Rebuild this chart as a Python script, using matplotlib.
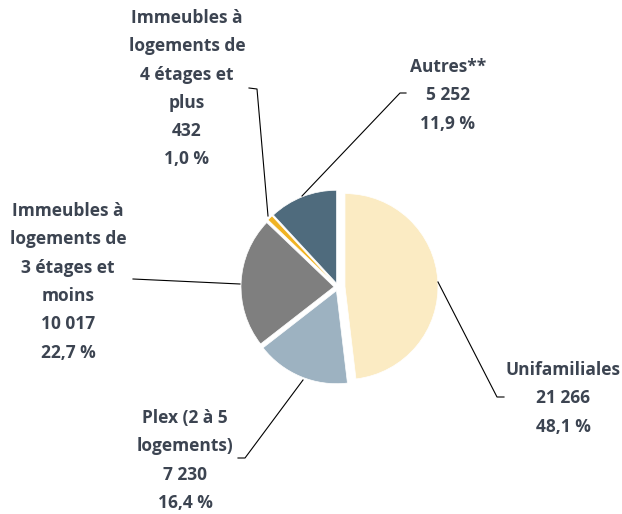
import matplotlib
matplotlib.use("Agg")
import matplotlib.pyplot as plt

W, H = 622, 514

labels = ["Unifamiliales", "Plex (2 à 5\nlogements)", "Immeubles à\nlogements de\n3 étages et\nmoins",
          "Immeubles à\nlogements de\n4 étages et\nplus", "Autres**"]
values = [21266, 7230, 10017, 432, 5252]
colors = ["#FBEBC3", "#9DB2C1", "#7F7F7F", "#F0B323", "#4F6B7D"]
explode = [7, 4, 4, 4, 4]  # offsets in pixels

TEXT = "#3C4451"

# label block: centre x, first line y (pixels from top)
label_pos = [(563, 370), (185, 418), (68, 211), (187, 18), (448, 67)]
# leader lines in pixels (from label side to the slice)
leaders = [
    [(504, 397), (497, 397), (438, 282)],
    [(238, 458), (245, 458), (303, 380)],
    [(133, 279), (240, 284)],
    [(249, 88), (257, 89), (268, 216)],
    [(406, 93), (400, 93), (302, 196)],
]


def fmt_int(v):
    return f"{v:,}".replace(",", " ")


def fmt_pct(v, total):
    return f"{v / total * 100:.1f} %".replace(".", ",")


total = sum(values)

plt.rcParams["font.family"] = ["Open Sans", "DejaVu Sans"]

fig = plt.figure(figsize=(W / 100, H / 100), dpi=100)
ax = fig.add_axes([0, 0, 1, 1])

ax.pie(values, colors=colors, explode=explode, startangle=90, counterclock=False,
       center=(338, H - 287), radius=93, frame=True,
       wedgeprops=dict(edgecolor="white", linewidth=0.5))
ax.set_xlim(0, W)
ax.set_ylim(0, H)
ax.axis("off")

for pts in leaders:
    xs = [p[0] for p in pts]
    ys = [H - p[1] for p in pts]
    ax.plot(xs, ys, color="black", lw=0.8)

line_h = 28.3
for lab, v, (cx, y0) in zip(labels, values, label_pos):
    lines = lab.split("\n") + [fmt_int(v), fmt_pct(v, total)]
    for i, t in enumerate(lines):
        ax.text(cx, H - (y0 + i * line_h), t, ha="center", va="center",
                fontsize=12.5, fontweight="bold", color=TEXT)

fig.savefig("out.png", dpi=100, facecolor="white")
